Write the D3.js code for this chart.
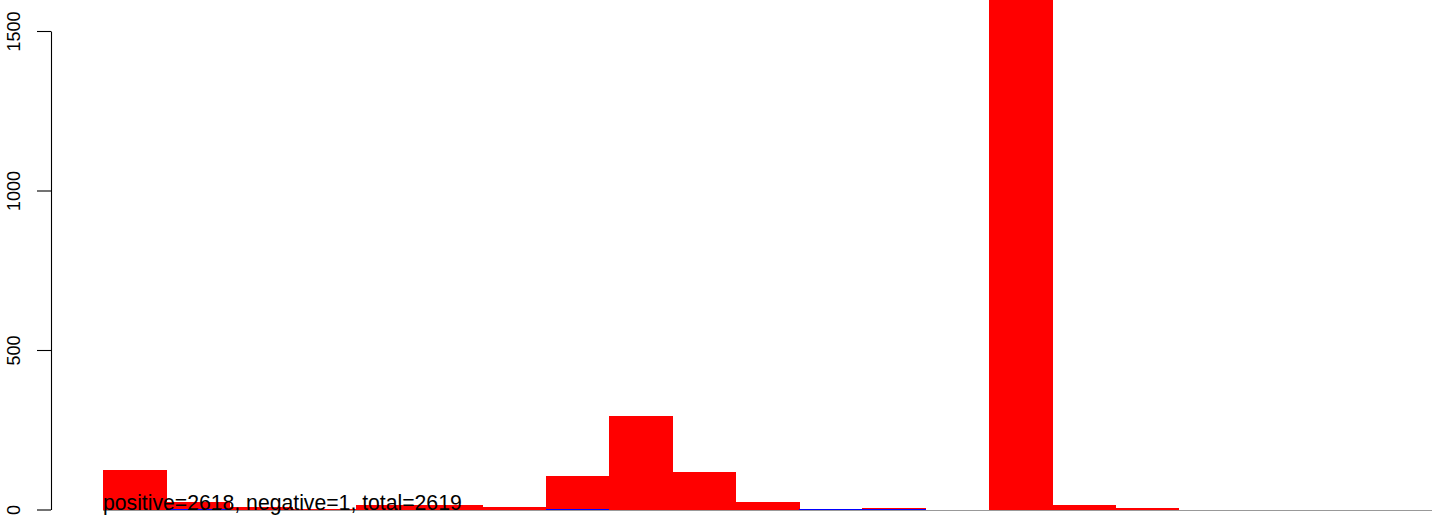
<!DOCTYPE html>
<html>
<head>
<meta charset="utf-8">
<script src="https://cdn.jsdelivr.net/npm/d3@7"></script>
<style>
html, body { margin: 0; padding: 0; background: #fff; }
svg { display: block; }
</style>
</head>
<body>
<svg id="chart" width="1444" height="516"></svg>
<script>
// Bin indices (21 equal-width bins, no x labels shown)
const bins = d3.range(1, 22);
// Positive counts per bin (red)
const positive = [125, 22, 7, 3, 14, 14, 8, 105, 292, 116, 22, 0, 5, 0, 1867, 13, 5, 0, 0, 0, 0];
// Negative markers per bin (blue)
const negative = [0, 1, 0, 0, 0, 0, 0, 1, 0, 0, 0, 1, 1, 0, 0, 0, 0, 0, 0, 0, 0];
// Y tick values
const yTicks = [0, 500, 1000, 1500];
const caption = "positive=2618, negative=1, total=2619";

const svg = d3.select("#chart");
const x = d3.scaleBand().domain(bins).range([103, 1432]).padding(0);
const y = d3.scaleLinear().domain([0, 1500]).range([509.5, 31]);

// positive bars
svg.append("g").attr("shape-rendering", "crispEdges")
  .selectAll("rect").data(bins).join("rect")
  .attr("x", d => x(d))
  .attr("width", x.bandwidth() + 0.5)
  .attr("y", (d, i) => y(positive[i]))
  .attr("height", (d, i) => y(0) - y(positive[i]))
  .attr("fill", "#ff0000");

// negative markers (thin 1px bars at the base)
svg.append("g").attr("shape-rendering", "crispEdges")
  .selectAll("rect").data(bins.filter((d, i) => negative[i] > 0)).join("rect")
  .attr("x", d => x(d))
  .attr("width", x.bandwidth())
  .attr("y", d => Math.floor(y(negative[d - 1])))
  .attr("height", 1)
  .attr("fill", "#0000ff");

// baseline
svg.append("line")
  .attr("shape-rendering", "crispEdges")
  .attr("x1", x.range()[0]).attr("x2", x.range()[1])
  .attr("y1", y(0) + 1).attr("y2", y(0) + 1)
  .attr("stroke", "#999").attr("stroke-width", 1.5);

// y axis
const ax = svg.append("g").attr("transform", "translate(51,0)")
  .call(d3.axisLeft(y).tickValues(yTicks).tickFormat(d3.format("d"))
    .tickSize(14).tickPadding(14).tickSizeOuter(0));
ax.select(".domain").attr("stroke", "#000").attr("stroke-width", 1.1);
ax.selectAll(".tick line").attr("stroke", "#000").attr("stroke-width", 1.1);
ax.selectAll(".tick text")
  .attr("font-family", "Liberation Sans, Arial, sans-serif")
  .attr("font-size", 18)
  .attr("fill", "#000")
  .attr("text-anchor", "middle")
  .attr("dy", 0)
  .attr("x", 0)
  .attr("transform", "translate(-31,0) rotate(-90)");

// caption
svg.append("text")
  .attr("x", 103).attr("y", 510)
  .attr("font-family", "Liberation Sans, Arial, sans-serif")
  .attr("font-size", 21.2)
  .attr("fill", "#000")
  .text(caption);
</script>
</body>
</html>
